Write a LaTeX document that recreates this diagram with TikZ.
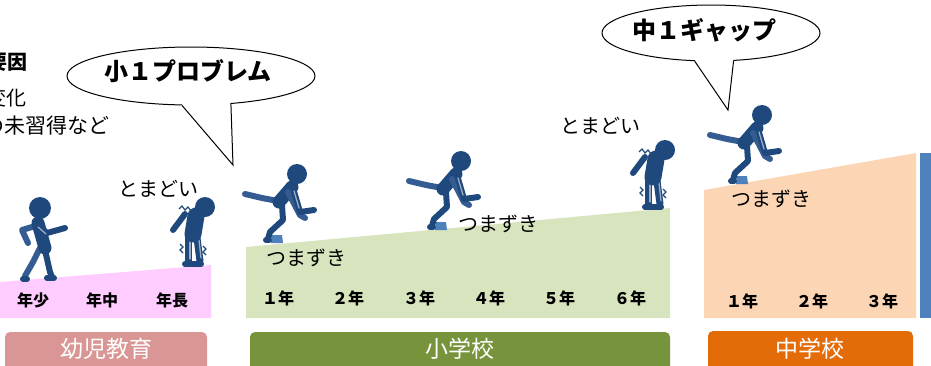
\documentclass[tikz,border=0pt]{standalone}
\usepackage{fontspec}
\setmainfont{Noto Sans CJK JP}
\usetikzlibrary{shapes.geometric}

\definecolor{figdark}{RGB}{31,73,125}
\definecolor{figmid}{RGB}{52,92,146}
\definecolor{stoneblue}{RGB}{79,129,189}
\definecolor{kinderpink}{RGB}{255,204,255}
\definecolor{elemgreen}{RGB}{215,228,189}
\definecolor{juniorpeach}{RGB}{252,213,181}
\definecolor{kinderbar}{RGB}{217,150,148}
\definecolor{elembar}{RGB}{119,147,60}
\definecolor{juniorbar}{RGB}{227,108,9}

\tikzset{
  limb/.style={draw=figdark, line width=6, line cap=round, line join=round},
  backlimb/.style={limb, draw=figmid},
  trunk/.style={limb, line width=13},
  stripe/.style={draw=white!55!figdark, line width=1.3, line cap=round},
  shake/.style={draw=figdark, line width=1.2},
  year/.style={font=\bfseries\fontsize{16}{16}\selectfont, inner sep=0},
  remark/.style={font=\fontsize{20}{20}\selectfont, inner sep=0},
  barlabel/.style={text=white, font=\fontsize{23}{23}\selectfont, inner sep=0},
  bubble/.style={ellipse, draw, fill=white, line width=1, inner sep=0},
  bubbletext/.style={font=\bfseries\fontsize{24}{24}\selectfont, inner sep=0},
  % child walking along
  walker/.pic={
    \draw[backlimb] (-5,-52) -- (-15,-49) -- (-9,-36);
    \draw[backlimb] (3,-31) -- (-4,-17) -- (-12,-3);
    \draw[limb] (-14,0) -- (-10,0);
    \draw[limb] (8,-29) -- (13,-7) -- (15,-2);
    \draw[limb] (10,-1) -- (17,-1);
    \draw[trunk] (1,-56) -- (8,-31);
    \draw[limb] (1,-54) -- (10,-46) -- (28,-51);
    \draw[stripe] (1,-52) -- (9,-45);
    \fill[figdark] (3,-71) circle (11);
  },
  % child tripping over a stone
  stumbler/.pic={
    \fill[stoneblue] (-6,0) -- (-5,-8) -- (5,-8) -- (6,0) -- cycle;
    \draw[backlimb] (1,-42) -- (-15,-45) -- (-32,-49);
    \draw[limb] (5,-38) -- (6,-23) -- (-7,-11) -- (-9,-4);
    \draw[limb] (-11,-3) -- (-8,-3);
    \draw[trunk] (15,-56) -- (2,-41);
    \draw[backlimb] (11,-51) -- (23,-28) -- (28,-25);
    \draw[limb] (16,-55) -- (23,-31) -- (37,-33);
    \draw[stripe] (17,-52) -- (22,-35);
    \fill[figdark] (20,-69) circle (10);
  },
  % child hesitating, shaking
  hesitant/.pic={
    \draw[limb, line width=7] (-5,-27) -- (-5,-3);
    \draw[limb, line width=7] (4,-27) -- (7,-4);
    \draw[stripe] (-3,-25) -- (-3,-6);
    \draw[stripe] (6,-25) -- (8,-7);
    \draw[limb] (-8,-1) -- (8,-1);
    \draw[trunk, line width=17] (3,-49) -- (0,-31);
    \draw[limb] (-8,-51) -- (-20,-35);
    \fill[figdark] (12,-58) circle (10);
    \draw[shake] (-14,-56) -- (-11,-59) -- (-8,-55) -- (-5,-58) -- (-2,-54);
    \draw[shake] (-13,-21) -- (-10,-18) -- (-13,-15) -- (-10,-12);
    \draw[shake] (10,-19) -- (13,-16) -- (10,-13) -- (13,-10);
  }
}

\begin{document}
\begin{tikzpicture}[x=1pt,y=-1pt]
  \useasboundingbox (0,0) rectangle (931,365);

  % slopes for each school stage
  \fill[kinderpink] (0,282) -- (211,265) -- (211,318) -- (0,318) -- cycle;
  \fill[elemgreen] (246,247) -- (670,208) -- (670,318) -- (246,318) -- cycle;
  \fill[juniorpeach] (704,190) -- (916,153) -- (916,318) -- (704,318) -- cycle;
  \fill[stoneblue] (920,153) rectangle (935,318);

  % stage bars
  \fill[kinderbar, rounded corners=5] (5,332) rectangle (207,380);
  \fill[elembar, rounded corners=5] (250,332) rectangle (670,380);
  \fill[juniorbar, rounded corners=5] (708,331) rectangle (913,380);
  \node[barlabel] (kinder) at (106,349) {幼児教育};
  \node[barlabel] (elem) at (460,349) {小学校};
  \node[barlabel] (junior) at (810,349) {中学校};

  % grades
  \node[year] (k1) at (33,300) {年少};
  \node[year] (k2) at (102,300) {年中};
  \node[year] (k3) at (172,300) {年長};
  \node[year] (e1) at (278,298) {１年};
  \node[year] (e2) at (348,298) {２年};
  \node[year] (e3) at (419,298) {３年};
  \node[year] (e4) at (489,298) {４年};
  \node[year] (e5) at (559,298) {５年};
  \node[year] (e6) at (630,298) {６年};
  \node[year] (j1) at (742,301) {１年};
  \node[year] (j2) at (812,301) {２年};
  \node[year] (j3) at (882,301) {３年};

  % children
  \pic at (37,279) {walker};
  \pic at (193,265) {hesitant};
  \pic at (277,243) {stumbler};
  \pic at (441,230) {stumbler};
  \pic at (653,208) {hesitant};
  \pic at (742,184) {stumbler};

  \node[remark] (wav1) at (158,189) {とまどい};
  \node[remark] (trip1) at (306,258) {つまずき};
  \node[remark] (trip2) at (498,224) {つまずき};
  \node[remark] (wav2) at (600,126) {とまどい};
  \node[remark] (trip3) at (771,199) {つまずき};

  % causes, running off the left edge
  \node[remark, font=\bfseries\fontsize{20}{20}\selectfont, anchor=east] (cause) at (28,62) {要因};
  \node[remark, anchor=east] (cause2) at (27,98) {変化};
  \node[remark, font=\fontsize{21}{21}\selectfont, anchor=east] (cause3) at (110,126) {の未習得など};

  % speech bubbles
  \node[bubble, minimum width=248, minimum height=58] (prob) at (191,76) {};
  \coordinate (probtip) at (233,165);
  \fill[white] (prob.-107) -- (probtip) -- (prob.-35) -- (prob.center) -- cycle;
  \draw[line width=1] (prob.-107) -- (probtip) -- (prob.-35);
  \node[bubbletext] (probtext) at (188,71) {小１プロブレム};

  \node[bubble, minimum width=218, minimum height=56] (gap) at (711,33) {};
  \coordinate (gaptip) at (728,110);
  \fill[white] (gap.-120) -- (gaptip) -- (gap.-51) -- (gap.center) -- cycle;
  \draw[line width=1] (gap.-120) -- (gaptip) -- (gap.-51);
  \node[bubbletext] (gaptext) at (704,30) {中１ギャップ};
\end{tikzpicture}
\end{document}
